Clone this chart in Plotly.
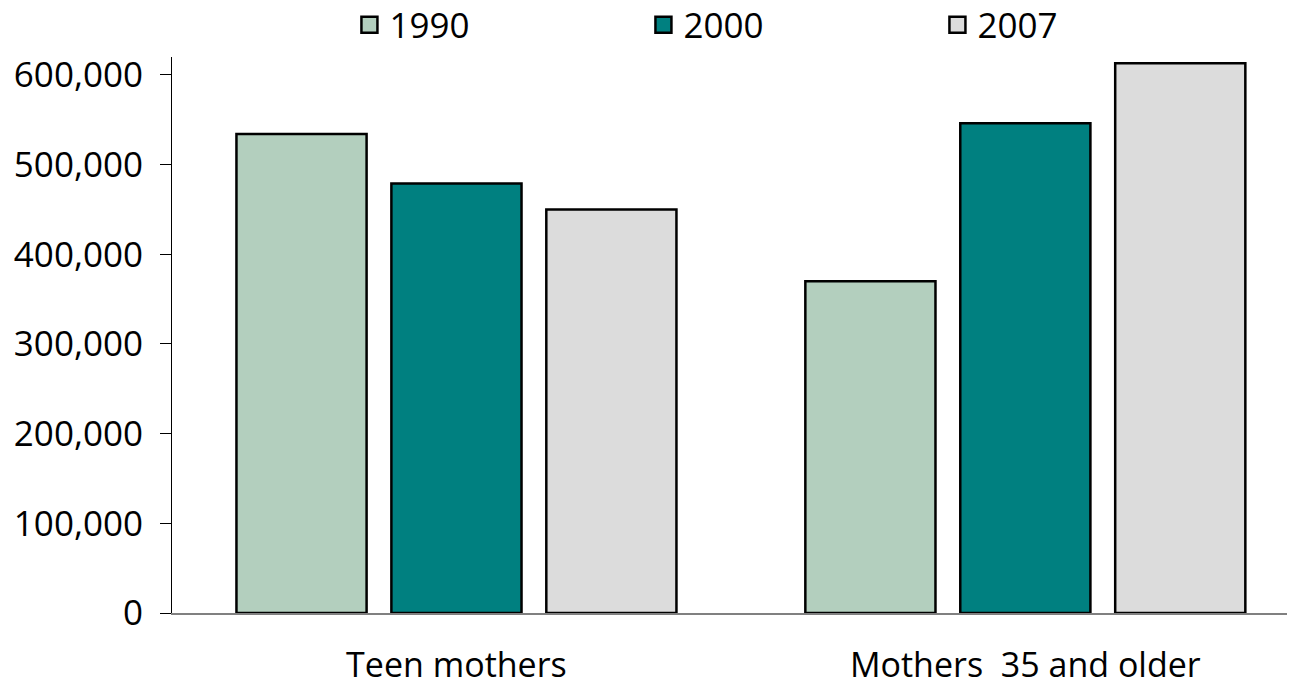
import plotly.graph_objects as go

# births by mother's age group
groups = ["Teen mothers", "Mothers  35 and older"]
years = ["1990", "2000", "2007"]
births_1990 = [534000, 370000]
births_2000 = [479000, 546000]
births_2007 = [450000, 613000]
colors = ["#b3cfbe", "#008080", "#dcdcdc"]

y_ticks = [0, 100000, 200000, 300000, 400000, 500000, 600000]
y_labels = ["0", "100,000", "200,000", "300,000", "400,000", "500,000", "600,000"]

FONT = "Open Sans, Noto Sans, sans-serif"

fig = go.Figure()
for name, vals, col in zip(years, [births_1990, births_2000, births_2007], colors):
    fig.add_trace(go.Bar(x=groups, y=vals, name=name, showlegend=False,
                         marker=dict(color=col, line=dict(color="black", width=2.5))))
    # bigger legend squares than the bar default
    fig.add_trace(go.Scatter(x=[None], y=[None], mode="markers", name=name,
                             marker=dict(symbol="square", size=16, color=col,
                                         line=dict(color="black", width=2.5))))

# page body has an 8px margin, so the figure is a bit smaller than the window
fig.update_layout(
    width=1287, height=676,
    margin=dict(l=164, r=0, t=49, b=71),
    paper_bgcolor="white", plot_bgcolor="white",
    font=dict(family=FONT, size=34, color="black"),
    barmode="group", bargap=0.183, bargroupgap=0.16,
    showlegend=True,
    legend=dict(orientation="h", x=0.158, xanchor="left",
                yref="container", y=0.975, yanchor="middle",
                entrywidth=249, entrywidthmode="pixels", itemsizing="trace",
                font=dict(size=35), traceorder="normal"),
)
fig.update_xaxes(range=[-0.5, 1.474], showline=True, linecolor="#808080", linewidth=1.5,
                 ticks="", ticklabelstandoff=21, showgrid=False, automargin=False)
fig.update_yaxes(range=[0, 620000], tickvals=y_ticks, ticktext=y_labels,
                 showline=True, linecolor="black", linewidth=1, ticks="outside",
                 ticklen=11, tickcolor="black", tickwidth=1, ticklabelstandoff=10,
                 tickfont=dict(size=35),
                 showgrid=False, zeroline=False, automargin=False)

fig.write_html("out.html")
